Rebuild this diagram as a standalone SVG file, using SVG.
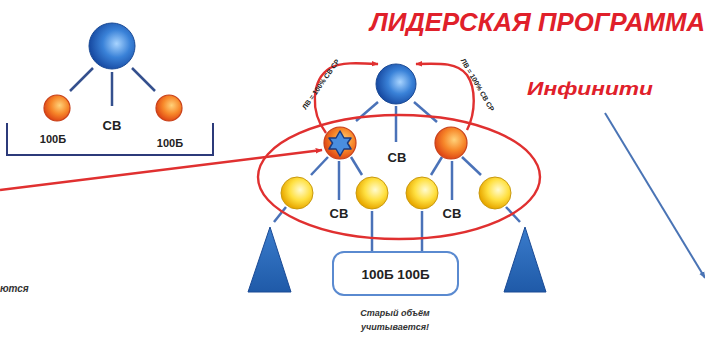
<svg xmlns="http://www.w3.org/2000/svg" width="705" height="341" viewBox="0 0 705 341">
<defs>
<radialGradient id="gBlue" cx="0.6" cy="0.45" r="0.6">
<stop offset="0" stop-color="#a8d4ff"/><stop offset="0.5" stop-color="#3a82d8"/><stop offset="1" stop-color="#1648a0"/>
</radialGradient>
<radialGradient id="gOrange" cx="0.6" cy="0.4" r="0.6">
<stop offset="0" stop-color="#ffd27a"/><stop offset="0.55" stop-color="#f7882a"/><stop offset="1" stop-color="#e04a16"/>
</radialGradient>
<radialGradient id="gYellow" cx="0.6" cy="0.4" r="0.6">
<stop offset="0" stop-color="#fffbd0"/><stop offset="0.55" stop-color="#ffe040"/><stop offset="1" stop-color="#e8a800"/>
</radialGradient>
<linearGradient id="gTri" x1="0" y1="0" x2="0" y2="1">
<stop offset="0" stop-color="#3a7ccc"/><stop offset="1" stop-color="#1f5aa8"/>
</linearGradient>
<marker id="arrR" viewBox="0 0 10 10" refX="9" refY="5" markerWidth="7" markerHeight="7" orient="auto-start-reverse" markerUnits="userSpaceOnUse">
<path d="M0,1 L10,5 L0,9 Z" fill="#e03030"/>
</marker>
<marker id="arrB" viewBox="0 0 10 10" refX="9" refY="5" markerWidth="7" markerHeight="7" orient="auto" markerUnits="userSpaceOnUse">
<path d="M0,1 L10,5 L0,9 Z" fill="#4a74b5"/>
</marker>
<style>
.blue{fill:url(#gBlue);stroke:#1a4a95;stroke-width:1}
.orange{fill:url(#gOrange);stroke:#c8401a;stroke-width:1.2}
.yellow{fill:url(#gYellow);stroke:#c99a10;stroke-width:1}
.tri{fill:url(#gTri);stroke:#1a4a95;stroke-width:1}
.ln{stroke:#34508e;stroke-width:2.5;fill:none}
.ln2{stroke:#4a72b8;stroke-width:2.5;fill:none}
.red{stroke:#e03030;stroke-width:2.4;fill:none}
.lbl{font-family:"Liberation Sans",Arial,sans-serif;font-weight:bold;fill:#222}
.title{font-family:"Liberation Sans",Arial,sans-serif;font-weight:bold;font-style:italic;fill:#e0202a}
.note{font-family:"Liberation Sans",Arial,sans-serif;font-style:italic;font-weight:bold;fill:#333}
.tiny{font-family:"Liberation Sans",Arial,sans-serif;font-weight:bold;fill:#222;font-size:7px}
</style>
</defs>
<rect width="705" height="341" fill="#ffffff"/>

<!-- Titles -->
<text id="title" class="title" x="370" y="31" font-size="25" textLength="335" lengthAdjust="spacingAndGlyphs">ЛИДЕРСКАЯ ПРОГРАММА</text>
<text id="infiniti" class="title" x="527" y="95" font-size="18" textLength="126" lengthAdjust="spacingAndGlyphs">Инфинити</text>
<text id="cut-text" class="note" x="0" y="292" font-size="10">ются</text>

<!-- Connectors -->
<g id="connectors">
<!-- left tree -->
<line class="ln" x1="93" y1="68" x2="70" y2="91"/>
<line class="ln" x1="132" y1="68" x2="155" y2="91"/>
<line class="ln" x1="112" y1="72" x2="112" y2="106"/>
<polyline points="7,123 7,155 213,155 213,123" fill="none" stroke="#2c3a7a" stroke-width="2"/>
<!-- middle tree -->
<line class="ln2" x1="378" y1="102" x2="356" y2="121"/>
<line class="ln2" x1="414" y1="102" x2="437" y2="122"/>
<line class="ln2" x1="396" y1="106" x2="396" y2="142"/>
<line class="ln2" x1="328" y1="157" x2="311" y2="175"/>
<line class="ln2" x1="351" y1="157" x2="362" y2="175"/>
<line class="ln2" x1="339" y1="161" x2="339" y2="200"/>
<line class="ln2" x1="442" y1="157" x2="431" y2="175"/>
<line class="ln2" x1="462" y1="157" x2="481" y2="175"/>
<line class="ln2" x1="452" y1="161" x2="452" y2="200"/>
<line class="ln2" x1="286" y1="207" x2="274" y2="222"/>
<line class="ln2" x1="506" y1="207" x2="520" y2="222"/>
<line class="ln2" x1="372" y1="211" x2="372" y2="252"/>
<line class="ln2" x1="422" y1="211" x2="422" y2="252"/>
<!-- red ellipse -->
<ellipse class="red" cx="399" cy="177" rx="141" ry="62"/>
<!-- red arrows -->
<line class="red" x1="0" y1="190" x2="322" y2="150" marker-end="url(#arrR)"/>
<path class="red" d="M326,133 C310,112 311,80 330,68 C341,62 358,63 378,64" marker-end="url(#arrR)"/>
<path class="red" d="M467,130 C476,112 476,88 467,75 C458,63 442,63 416,64" marker-end="url(#arrR)"/>
<!-- blue arrow -->
<line x1="605" y1="113" x2="705" y2="278" stroke="#4a74b5" stroke-width="2" marker-end="url(#arrB)"/>
</g>

<!-- curve labels -->
<text class="tiny" transform="translate(326,88) rotate(-55)" text-anchor="middle" dy="-4">ЛВ = 100% СВ СР</text>
<text class="tiny" transform="translate(472,88) rotate(60)" text-anchor="middle" dy="-4">ЛВ = 100% СВ СР</text>

<!-- Left tree nodes -->
<g id="L-top"><circle class="blue" cx="112" cy="46" r="23"/></g>
<g id="L-left"><circle class="orange" cx="57" cy="108" r="13"/><text class="lbl" x="53" y="143" font-size="11" text-anchor="middle">100Б</text></g>
<g id="L-right"><circle class="orange" cx="169" cy="108" r="13"/><text class="lbl" x="170" y="147" font-size="11" text-anchor="middle">100Б</text></g>
<g id="L-sv"><text class="lbl" x="112" y="130" font-size="13" text-anchor="middle">СВ</text></g>

<!-- Middle tree nodes -->
<g id="M-top"><circle class="blue" cx="396" cy="84" r="20"/></g>
<g id="M-star">
<circle class="orange" cx="340" cy="143" r="16"/>
<path d="M340,131 L344,138 L351,138 L347.5,143 L351,149 L344,149 L340,156 L336,149 L329,149 L332.5,143 L329,138 L336,138 Z" fill="#4a8ee0" stroke="#1a3a80" stroke-width="1.5" stroke-linejoin="round"/>
</g>
<g id="M-right"><circle class="orange" cx="451" cy="143" r="16"/></g>
<g id="M-sv"><text class="lbl" x="397" y="162" font-size="13" text-anchor="middle">СВ</text></g>
<g id="Y1"><circle class="yellow" cx="297" cy="193" r="16"/></g>
<g id="Y2"><circle class="yellow" cx="372" cy="193" r="16"/></g>
<g id="Y3"><circle class="yellow" cx="422" cy="193" r="16"/></g>
<g id="Y4"><circle class="yellow" cx="495" cy="193" r="16"/></g>
<g id="SV-left"><text class="lbl" x="339" y="218" font-size="13" text-anchor="middle">СВ</text></g>
<g id="SV-right"><text class="lbl" x="452" y="218" font-size="13" text-anchor="middle">СВ</text></g>
<g id="T-left"><polygon class="tri" points="270,227 248,292 291,292"/></g>
<g id="T-right"><polygon class="tri" points="525,227 504,292 546,292"/></g>
<g id="box">
<rect x="333" y="252" width="125" height="43" rx="11" fill="#ffffff" stroke="#5a8ad0" stroke-width="2"/>
<text class="lbl" x="395.5" y="279" font-size="13.5" text-anchor="middle">100Б 100Б</text>
</g>
<g id="note">
<text class="note" x="395" y="316" font-size="9" text-anchor="middle">Старый объём</text>
<text class="note" x="395" y="330" font-size="9" text-anchor="middle">учитывается!</text>
</g>
</svg>
